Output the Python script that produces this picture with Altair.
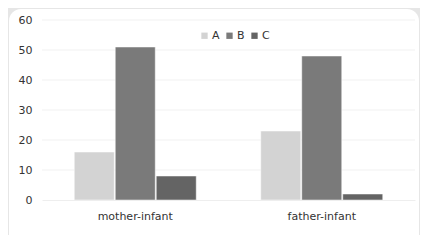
import altair as alt
import pandas as pd

groups = ["mother-infant", "father-infant"]
series = ["A", "B", "C"]
values_A = [16, 23]
values_B = [51, 48]
values_C = [8, 2]
colors = ["#d3d3d3", "#7a7a7a", "#646464"]
y_ticks = [0, 10, 20, 30, 40, 50, 60]

rows = []
for i, g in enumerate(groups):
    for s, vals in zip(series, [values_A, values_B, values_C]):
        rows.append({"group": g, "series": s, "value": vals[i]})
df = pd.DataFrame(rows)

FONT = "DejaVu Sans"
TXT = "#333333"

y_axis = alt.Axis(values=y_ticks, ticks=False, domain=False, grid=False,
                  labelPadding=10, labelFontSize=11, zindex=1,
                  labelOverlap=False, labelFont=FONT, labelColor=TXT)
y_scale = alt.Scale(domain=[0, 60], nice=False)

frame = alt.Chart(pd.DataFrame({"d": [0]})).mark_rect(
    fill="white", cornerRadius=12, clip=False
).encode(
    x=alt.value(-33), x2=alt.value(377), y=alt.value(-11), y2=alt.value(226)
)

grid = alt.Chart(pd.DataFrame({"value": y_ticks[1:]})).mark_rule(
    color="#f1f1f1", strokeWidth=1
).encode(
    y=alt.Y("value:Q", title=None, scale=y_scale, axis=y_axis)
)

bars = alt.Chart(df).mark_bar(stroke="white", strokeWidth=0.5).encode(
    x=alt.X("group:N", sort=groups, title=None,
            scale=alt.Scale(paddingInner=0, paddingOuter=0),
            axis=alt.Axis(labelAngle=0, ticks=False, domain=True, domainColor="#eeeeee",
                          labelPadding=10, labelFontSize=11, labelFont=FONT,
                          labelColor=TXT, grid=False, zindex=1)),
    xOffset=alt.XOffset("series:N", sort=series,
                        scale=alt.Scale(paddingInner=0.024, paddingOuter=0.787)),
    y=alt.Y("value:Q", title=None, scale=y_scale, axis=y_axis),
    color=alt.Color("series:N", sort=series,
                    scale=alt.Scale(domain=series, range=colors),
                    legend=alt.Legend(title=None, orient="none", legendX=157, legendY=10,
                                      direction="horizontal", symbolType="square",
                                      symbolSize=40, symbolStrokeWidth=0,
                                      labelFontSize=11, labelFont=FONT,
                                      labelColor=TXT, columnPadding=4,
                                      labelOffset=2, zindex=1)),
)

chart = alt.layer(frame, grid, bars).properties(
    width=373, height=180,
    autosize=alt.AutoSizeParams(type="none"),
    padding={"left": 34, "top": 12, "right": 5, "bottom": 35},
    background="#e6e6e6",
).configure_view(stroke=None)

chart.save("out.html", embed_options={"renderer": "svg", "actions": False})
